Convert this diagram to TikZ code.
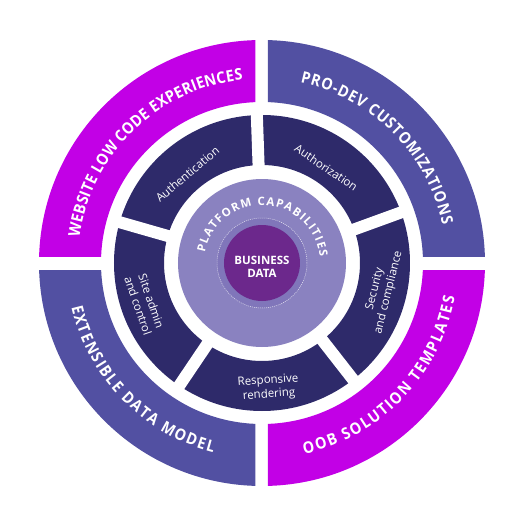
\documentclass[tikz,border=0pt]{standalone}
\usepackage{fontspec}
\setmainfont{Open Sans}
\newfontfamily\rimfam[FakeStretch=0.9]{Open Sans}
\usetikzlibrary{decorations.text}
\definecolor{magentaQ}{RGB}{194,0,230}
\definecolor{blueQ}{RGB}{82,80,162}
\definecolor{navyR}{RGB}{46,42,106}
\definecolor{lavL}{RGB}{138,130,192}
\definecolor{lavD}{RGB}{128,118,186}
\definecolor{coreP}{RGB}{108,40,140}
\newcommand{\rimfont}{\rimfam\fontsize{16}{16}\selectfont\bfseries}
\newcommand{\platfont}{\fontsize{11.5}{11.5}\selectfont\bfseries}
\begin{document}
\begin{tikzpicture}[x=1pt,y=1pt,
  rimtext/.style={decorate, decoration={text along path, text align={fit to path}, text color=white}},
  segtext/.style={text=white, align=center, font=\fontsize{11.5}{14}\selectfont, inner sep=0pt},
  gapline/.style={white, line width=12pt}
]
\useasboundingbox (-262,-257) rectangle (258,263);

% outer ring quadrants
\begin{scope}
  \clip (-300,7) rectangle (-6.5,300);
  \fill[magentaQ, even odd rule] (0,0) circle[radius=223] (0,0) circle[radius=161];
\end{scope}
\begin{scope}
  \clip (6,7) rectangle (300,300);
  \fill[blueQ, even odd rule] (0,0) circle[radius=223] (0,0) circle[radius=161];
\end{scope}
\begin{scope}
  \clip (-300,-7.5) rectangle (-6.5,-300);
  \fill[blueQ, even odd rule] (0,0) circle[radius=223] (0,0) circle[radius=161];
\end{scope}
\begin{scope}
  \clip (6,-7.5) rectangle (300,-300);
  \fill[magentaQ, even odd rule] (0,0) circle[radius=223] (0,0) circle[radius=161];
\end{scope}

% outer ring texts
\path[rimtext, decoration={text={|\rimfont|WEBSITE LOW CODE EXPERIENCES}}]
  (172:184.3) arc[start angle=172, end angle=96, radius=184.3];
\path[rimtext, decoration={text={|\rimfont|PRO-DEV CUSTOMIZATIONS}}]
  (78:184.3) arc[start angle=78, end angle=12, radius=184.3];
\path[rimtext, decoration={text={|\rimfont|OOB SOLUTION TEMPLATES}}]
  (-77.5:195.7) arc[start angle=-77.5, end angle=-10, radius=195.7];
\path[rimtext, decoration={text={|\rimfont|EXTENSIBLE DATA MODEL}}]
  (193:195.7) arc[start angle=193, end angle=255.5, radius=195.7];

% dark ring
\fill[navyR, even odd rule] (0,0) circle[radius=148] (0,0) circle[radius=98];
\foreach \a in {20,92,164,236,308} {
  \draw[gapline] (0,0) -- (\a:153);
}

% platform circle
\fill[lavL] (0,0) circle[radius=84];
\fill[lavD] (0,0) circle[radius=45];
\draw[white, line width=0.5pt, dash pattern=on 1pt off 1pt, opacity=0.8] (0,0) circle[radius=45];
\fill[coreP] (0,0) circle[radius=38];

\path[decorate, decoration={text along path, text align={fit to path}, text color=white,
  text={|\platfont|PLATFORM CAPABILITIES}}]
  (170:58) arc[start angle=170, end angle=6, radius=58];

\node[text=white, align=center, font=\fontsize{11.5}{13}\selectfont\bfseries, inner sep=0pt] (core) at (0,-3.5) {BUSINESS\\DATA};

% segment labels
\node[segtext, rotate=40] (authn) at (130:116) {Authentication};
\node[segtext, rotate=-34] (authz) at (56:115) {Authorization};
\node[segtext, rotate=76] (secu) at (-13:123) {Security\\and compliance};
\node[segtext, rotate=4] (resp) at (273:125) {Responsive\\rendering};
\node[segtext, rotate=-71] (site) at (199:124) {Site admin\\and control};
\end{tikzpicture}
\end{document}
